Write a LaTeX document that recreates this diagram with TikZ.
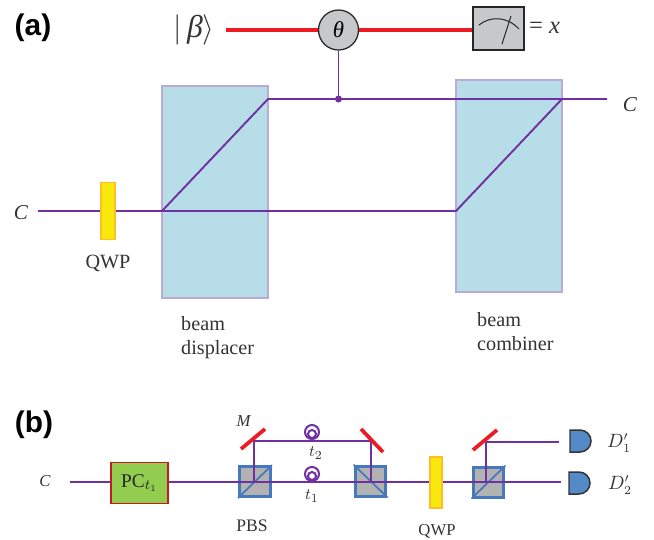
\documentclass[tikz,border=0pt]{standalone}
\usepackage{fontspec}
\setmainfont{Liberation Serif}
\newfontfamily\panelfont{Liberation Sans}
\definecolor{beampurple}{RGB}{112,48,160}
\definecolor{boxblue}{RGB}{183,221,232}
\definecolor{boxedge}{RGB}{185,170,215}
\definecolor{cubeblue}{RGB}{70,120,190}
\definecolor{cubegrey}{RGB}{178,178,178}
\definecolor{metergrey}{RGB}{198,200,202}
\definecolor{mirrorred}{RGB}{237,28,36}
\definecolor{plateyellow}{RGB}{248,232,12}
\definecolor{plateedge}{RGB}{253,190,40}
\definecolor{pcgreen}{RGB}{146,205,80}
\definecolor{detblue}{RGB}{84,138,200}
\tikzset{
	panel/.style={font=\panelfont\bfseries\fontsize{17}{17}\selectfont},
	lbl/.style={font=\fontsize{9.5}{11}\selectfont, text=black!80},
	biglbl/.style={font=\fontsize{11.5}{13}\selectfont, text=black!80},
	beam/.style={draw=beampurple, line width=0.38mm},
	thinbeam/.style={draw=beampurple, line width=0.3mm},
	mirror/.style={draw=mirrorred, line width=0.75mm},
	cube/.style={draw=cubeblue, fill=cubegrey, line width=0.6mm, minimum width=0.62cm, minimum height=0.6cm, inner sep=0pt},
	plate/.style={draw=plateedge, fill=plateyellow, line width=0.3mm, inner sep=0pt},
	displacer/.style={draw=boxedge, fill=boxblue, line width=0.3mm, minimum width=2.12cm, minimum height=4.24cm, inner sep=0pt},
	detector/.style={draw=black!80, fill=detblue, line width=0.3mm},
}
\begin{document}
\begin{tikzpicture}[x=0.02cm, y=-0.02cm]
	\useasboundingbox (0, 0) rectangle (654, 539);

	%%%%% PANEL A %%%%%
	\node[panel] (a) at (33, 28) {(a)};

	\node[displacer] (bd) at (215, 192) {};
	\node[displacer] (bc) at (509, 186) {};

	\coordinate (cin) at (38, 211);
	\coordinate (bdin) at (162, 211);
	\coordinate (bdout) at (268, 99);
	\coordinate (bcin) at (456, 211);
	\coordinate (bcout) at (562, 99);
	\coordinate (cout) at (607, 99);
	\coordinate (ctrl) at (338.5, 99);

	\draw[beam] (cin) -- (bdin) -- (bcin) -- (bcout);
	\draw[beam] (bdin) -- (bdout) -- (cout);

	\node[plate, minimum width=0.28cm, minimum height=1.14cm] (qwpa) at (108, 211) {};

	\coordinate (betaout) at (226, 30);
	\node[draw=black!85, fill=metergrey, line width=0.25mm, minimum width=1.02cm, minimum height=0.86cm, inner sep=0pt] (meter) at (498.5, 28.5) {};
	\draw[mirrorred, line width=0.65mm] (betaout) -- (meter.west |- betaout);
	\node[circle, draw=black!85, fill=metergrey, line width=0.25mm, minimum size=0.8cm, inner sep=0pt] (theta) at (338.5, 30) {\fontsize{13}{13}\selectfont\textit{θ}};
	\draw[beampurple, line width=0.36mm] (theta) -- (ctrl);
	\fill[beampurple] (ctrl) circle (3.5);

	\draw[black!85, line width=0.2mm] (479, 25) .. controls (490, 16) and (507, 16) .. (519, 29);
	\draw[black!85, line width=0.2mm] (502, 44) -- (511, 16);

	\node[font=\fontsize{18}{18}\selectfont, text=black!80] (beta) at (194, 30) {$\big|$\,\textit{β}$\big\rangle$};
	\node[font=\fontsize{14}{14}\selectfont, text=black!80] (result) at (544.5, 28) {= \textit{x}};
	\node[font=\fontsize{12}{12}\selectfont, text=black!80] (cright) at (630, 105) {\textit{C}};
	\node[font=\fontsize{12}{12}\selectfont, text=black!80] (cleft) at (21, 213) {\textit{C}};
	\node[biglbl] (qwpalabel) at (108, 263) {QWP};
	\node[biglbl, align=left, anchor=west] (bdlabel) at (175, 338) {beam\\[0.7pt]displacer};
	\node[biglbl, align=left, anchor=west] (bclabel) at (471, 332) {beam\\[0.7pt]combiner};

	%%%%% PANEL B %%%%%
	\node[panel] (b) at (34, 425) {(b)};

	\coordinate (cb) at (70, 482);
	\coordinate (split) at (254, 482);
	\coordinate (mone) at (254, 441);
	\coordinate (mtwo) at (371, 441);
	\coordinate (join) at (371, 482);
	\coordinate (split2) at (486, 482);
	\coordinate (mthree) at (486, 442);
	\coordinate (dtwoin) at (561, 482);
	\coordinate (doneIn) at (559, 442);

	\node[cube] (pbsa) at (255, 481.5) {};
	\node[cube] (pbsb) at (370.5, 481) {};
	\node[cube] (pbsc) at (488.5, 482) {};
	\draw[cubeblue, line width=0.35mm] (pbsa.south west) -- (pbsa.north east);
	\draw[cubeblue, line width=0.35mm] (pbsb.north west) -- (pbsb.south east);
	\draw[cubeblue, line width=0.35mm] (pbsc.south west) -- (pbsc.north east);

	\draw[thinbeam] (cb) -- (dtwoin);
	\draw[thinbeam] (split) -- (mone) -- (mtwo) -- (join);
	\draw[thinbeam] (split2) -- (mthree) -- (doneIn);

	\node[draw=mirrorred!85!black, fill=pcgreen, line width=0.25mm, minimum width=1.14cm, minimum height=0.82cm, inner sep=0pt, font=\fontsize{11}{11}\selectfont, text=black!85] (pc) at (139.5, 483) {PC$_{t_1}$};
	\node[plate, minimum width=0.24cm, minimum height=1.02cm] (qwpb) at (436, 482.5) {};

	\draw[mirror] (241, 449) -- (265, 429);
	\draw[mirror] (361, 429) -- (383, 452);
	\draw[mirror] (473, 450) -- (497, 430);

	\foreach \cy in {432, 474} {
		\draw[beampurple, line width=0.4mm] (312, \cy) circle (7);
		\draw[beampurple, line width=0.4mm] (312, \cy+2) circle (4);
	}

	\draw[detector] (570, 430) -- (580, 430) arc (-90:90:11) -- (570, 452) -- cycle;
	\draw[detector] (569, 472) -- (579, 472) arc (-90:90:11) -- (569, 494) -- cycle;

	\node[lbl] (clabel) at (45, 481) {\textit{C}};
	\node[lbl] (mlabel) at (244, 421) {\textit{M}};
	\node[lbl] (ttwo) at (316, 453) {$t_2$};
	\node[lbl] (tone) at (312, 496) {$t_1$};
	\node[lbl, font=\fontsize{10}{11}\selectfont] (pbslabel) at (252, 526) {PBS};
	\node[lbl] (qwpblabel) at (437, 531) {QWP};
	\node[lbl, font=\fontsize{10.5}{11}\selectfont] (done) at (619, 443) {$D'_1$};
	\node[lbl, font=\fontsize{10.5}{11}\selectfont] (dtwo) at (620, 485) {$D'_2$};
\end{tikzpicture}
\end{document}
